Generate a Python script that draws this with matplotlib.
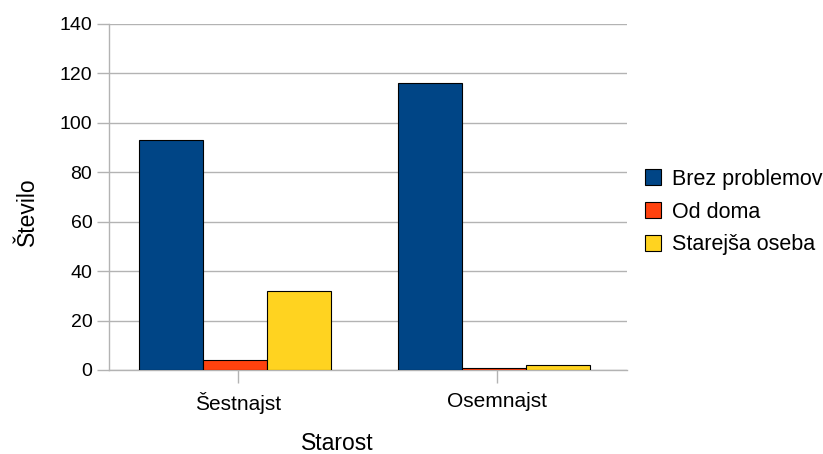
import matplotlib
matplotlib.use("Agg")
import matplotlib.pyplot as plt
import numpy as np

categories = ["Šestnajst", "Osemnajst"]
series_names = ["Brez problemov", "Od doma", "Starejša oseba"]
brez = [93, 116]
od_doma = [4, 1]
starejsa = [32, 2]
colors = ["#004586", "#ff420e", "#ffd320"]

plt.rcParams['font.family'] = ['Liberation Sans', 'DejaVu Sans']
W, H = 823, 454
fig = plt.figure(figsize=(W/100, H/100), dpi=100)
ax = fig.add_axes([109/W, 1-370/H, (627-109)/W, (370-24)/H])

x = np.arange(len(categories)) - 0.015
w = 0.247
for i, (vals, name) in enumerate(zip([brez, od_doma, starejsa], series_names)):
    ax.bar(x + (i - 1) * w, vals, w, color=colors[i], edgecolor="black", linewidth=0.8, label=name, zorder=3)

ax.set_xlim(-0.5, 1.5)
ax.set_ylim(0, 140)
ax.set_yticks(range(0, 141, 20))
ax.set_xticks(np.arange(len(categories)))
ax.set_xticklabels(categories, fontsize=15)
ax.tick_params(axis='y', labelsize=14, length=9, color="#b3b3b3", width=1, pad=3)
ax.tick_params(axis='x', length=9, color="#b3b3b3", width=1, pad=7)
ax.grid(axis='y', color="#b3b3b3", linewidth=1, zorder=0)
for s in ["top", "right"]:
    ax.spines[s].set_visible(False)
for s in ["left", "bottom"]:
    ax.spines[s].set_color("#b3b3b3")
    ax.spines[s].set_linewidth(1)

fig.text(27/W, 1-212/H, "Število", fontsize=16.5, rotation=90, ha="center", va="center")
fig.text(337/W, 1-444/H, "Starost", fontsize=16.5, ha="center", va="center")

leg = fig.legend(loc="center left", bbox_to_anchor=(645/W, 1-212/H), frameon=False, fontsize=15.5,
                 handlelength=0.75, handleheight=0.75, handletextpad=0.5, labelspacing=0.55,
                 borderaxespad=0, borderpad=0)
for h in leg.legend_handles:
    h.set_linewidth(0.8)

fig.savefig("out.png", dpi=100)
